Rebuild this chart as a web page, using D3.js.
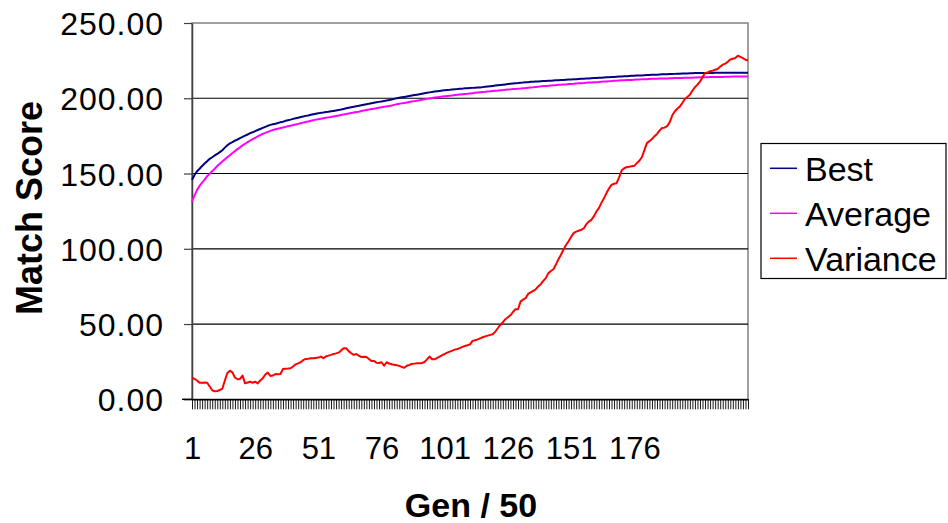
<!DOCTYPE html>
<html>
<head>
<meta charset="utf-8">
<script src="https://cdn.jsdelivr.net/npm/d3@7"></script>
<style>
  html, body { margin: 0; padding: 0; background: #fff; }
  svg { display: block; font-family: "Liberation Sans", Arial, sans-serif; }
</style>
</head>
<body>
<svg id="chart" width="948" height="523"></svg>
<script>
// Generation samples (every 50 generations)
const generations = d3.range(1, 222);

const xTickLabels = [1, 26, 51, 76, 101, 126, 151, 176];
const yTickValues = [0, 50, 100, 150, 200, 250];

const bestScores = [
  145.8,149.0,151.5,153.2,155.0,156.6,158.2,159.8,160.8,162.0,
  163.0,164.2,165.5,167.2,168.8,170.0,170.8,171.8,172.6,173.5,
  174.3,175.2,175.9,176.8,177.4,178.2,178.9,179.6,180.3,181.0,
  181.7,182.3,182.7,183.1,183.6,184.0,184.4,185.0,185.4,185.8,
  186.3,186.7,187.1,187.5,187.9,188.3,188.6,189.0,189.4,189.7,
  190.0,190.3,190.5,190.8,191.0,191.3,191.6,191.9,192.2,192.5,
  192.9,193.3,193.7,194.0,194.3,194.7,195.0,195.4,195.7,196.0,
  196.3,196.7,197.0,197.3,197.6,197.9,198.2,198.5,198.8,199.2,
  199.6,200.0,200.3,200.6,200.9,201.2,201.5,201.8,202.1,202.4,
  202.7,203.0,203.3,203.6,203.9,204.2,204.5,204.7,204.9,205.1,
  205.3,205.5,205.6,205.8,206.0,206.1,206.3,206.4,206.6,206.7,
  206.8,206.9,207.0,207.1,207.2,207.4,207.6,207.8,208.0,208.2,
  208.4,208.6,208.8,209.0,209.2,209.4,209.6,209.8,210.0,210.1,
  210.3,210.4,210.6,210.7,210.9,211.0,211.1,211.2,211.3,211.4,
  211.5,211.6,211.7,211.8,211.9,212.0,212.1,212.2,212.3,212.4,
  212.5,212.6,212.7,212.8,212.9,213.0,213.1,213.2,213.3,213.4,
  213.5,213.6,213.7,213.8,213.9,214.0,214.1,214.2,214.3,214.4,
  214.5,214.6,214.7,214.8,214.9,215.0,215.1,215.2,215.2,215.3,
  215.4,215.5,215.6,215.6,215.7,215.8,215.9,215.9,216.0,216.1,
  216.1,216.2,216.3,216.3,216.4,216.5,216.5,216.6,216.6,216.7,
  216.7,216.7,216.8,216.8,216.8,216.8,216.8,216.9,216.9,216.9,
  216.9,216.9,216.9,216.9,216.9,216.9,216.9,216.9,216.9,216.9,216.9
];

const averageScores = [
  131.4,135.5,139.0,141.8,143.9,146.0,148.2,149.8,151.5,153.2,
  155.0,156.5,158.0,159.4,160.8,162.2,163.6,164.9,166.2,167.4,
  168.7,169.8,170.9,171.9,172.8,173.7,174.6,175.5,176.3,177.0,
  177.7,178.3,178.9,179.4,179.8,180.2,180.6,181.0,181.4,181.8,
  182.2,182.6,183.0,183.4,183.8,184.2,184.6,185.0,185.4,185.8,
  186.1,186.4,186.7,187.0,187.3,187.6,187.9,188.2,188.5,188.9,
  189.3,189.6,189.9,190.2,190.5,190.8,191.1,191.5,191.8,192.2,
  192.5,192.8,193.1,193.4,193.7,194.0,194.3,194.6,194.9,195.2,
  195.6,196.0,196.3,196.6,196.9,197.2,197.5,197.8,198.1,198.4,
  198.7,199.0,199.3,199.6,199.9,200.2,200.5,200.7,200.9,201.1,
  201.3,201.5,201.7,201.9,202.1,202.3,202.5,202.7,202.9,203.0,
  203.2,203.4,203.6,203.8,204.0,204.2,204.3,204.5,204.6,204.8,
  205.0,205.1,205.3,205.4,205.6,205.8,205.9,206.1,206.2,206.4,
  206.5,206.7,206.8,207.0,207.2,207.3,207.5,207.7,207.9,208.1,
  208.2,208.3,208.5,208.6,208.7,208.9,209.0,209.1,209.2,209.4,
  209.5,209.6,209.8,209.9,210.0,210.1,210.3,210.4,210.5,210.6,
  210.7,210.8,211.0,211.1,211.2,211.3,211.4,211.6,211.7,211.8,
  211.9,212.0,212.1,212.2,212.2,212.3,212.4,212.5,212.6,212.6,
  212.7,212.8,212.9,212.9,213.0,213.1,213.1,213.2,213.2,213.3,
  213.3,213.4,213.4,213.5,213.5,213.6,213.6,213.7,213.7,213.8,
  213.8,213.9,213.9,214.0,214.0,214.1,214.1,214.1,214.2,214.2,
  214.2,214.3,214.3,214.3,214.4,214.4,214.4,214.5,214.5,214.5,214.5
];

const varianceScores = [
  14.4,13.5,12.5,11.0,11.0,11.2,11.0,8.5,6.0,5.3,
  5.5,6.2,7.0,12.5,17.5,19.0,17.9,14.5,13.3,13.5,
  15.7,10.6,11.2,11.7,11.0,11.7,10.6,12.5,14.0,16.5,
  17.7,15.5,15.8,16.8,16.6,16.8,20.1,20.3,20.4,20.6,
  21.8,23.2,23.9,24.6,26.0,26.8,27.0,27.3,27.2,27.5,
  27.7,28.4,27.3,28.5,29.0,29.5,30.1,30.5,31.0,32.5,
  33.9,33.9,32.0,30.6,29.5,30.1,29.0,28.1,28.2,28.1,
  26.8,25.5,25.5,24.3,24.1,24.6,22.3,24.6,23.8,23.3,
  23.0,22.6,22.2,21.5,21.0,22.3,22.8,23.5,23.7,23.9,
  24.0,24.1,24.8,26.5,28.4,26.6,26.6,27.5,28.4,29.3,
  30.1,31.0,31.7,32.3,33.0,33.4,34.0,34.8,35.4,35.9,
  36.5,38.8,39.2,39.8,40.5,41.2,41.8,42.3,42.8,43.2,
  45.0,47.2,49.4,51.2,53.2,54.5,55.8,58.0,59.8,59.8,
  64.9,66.2,67.2,70.0,71.0,72.0,73.0,75.0,76.5,78.7,
  80.5,83.8,85.2,86.4,89.5,93.1,96.0,99.5,102.5,105.0,
  107.8,110.4,111.4,112.0,112.6,113.5,116.2,118.0,119.2,121.5,
  124.7,127.0,130.5,133.5,137.0,140.0,142.5,143.2,143.6,147.5,
  152.0,153.5,154.3,154.5,154.8,155.1,156.9,158.5,160.8,165.5,
  170.2,171.5,172.9,174.8,176.3,178.5,180.2,180.5,181.5,184.0,
  188.5,191.2,193.0,194.5,196.8,199.5,200.8,202.3,205.0,207.4,
  209.0,211.0,214.0,216.8,217.2,218.0,218.3,218.9,219.4,221.0,
  222.3,223.0,224.2,225.8,226.3,226.8,228.3,227.5,226.7,225.6,225.1
];

const seriesNames = ["Best", "Average", "Variance"];
const seriesColors = ["#000080", "#ff00ff", "#ff0000"];
const seriesValues = [bestScores, averageScores, varianceScores];

const svg = d3.select("#chart");
const plot = { left: 192, right: 748, top: 23, bottom: 399.3 };

const x = d3.scalePoint().domain(generations).range([plot.left, plot.right]);
const y = d3.scaleLinear().domain([0, 250]).range([plot.bottom, plot.top]);

// Plot frame
svg.append("rect")
  .attr("x", plot.left).attr("y", plot.top)
  .attr("width", plot.right - plot.left).attr("height", plot.bottom - plot.top)
  .attr("fill", "none").attr("stroke", "#808080").attr("stroke-width", 1.5);

// Horizontal gridlines
svg.append("g")
  .selectAll("line")
  .data(yTickValues.filter(v => v > 0 && v < 250))
  .join("line")
  .attr("x1", plot.left).attr("x2", plot.right)
  .attr("y1", d => y(d)).attr("y2", d => y(d))
  .attr("stroke", "#000").attr("stroke-width", 1.2);

// Y axis
const yAxis = svg.append("g")
  .attr("transform", `translate(${plot.left},0)`)
  .call(d3.axisLeft(y).tickValues(yTickValues).tickSize(8).tickSizeOuter(0)
    .tickPadding(20).tickFormat(d3.format(".2f")));
yAxis.select(".domain").attr("stroke", "#404040").attr("stroke-width", 1.5);
yAxis.selectAll(".tick line").attr("stroke", "#404040").attr("stroke-width", 1.2);
yAxis.selectAll(".tick text").attr("font-size", 32).attr("fill", "#000")
  .attr("letter-spacing", 1)
  .attr("font-family", "'Liberation Sans', Arial, sans-serif").attr("dy", "0.36em");

// X axis: a tick per generation sample
const xAxisTicks = svg.append("g")
  .attr("transform", `translate(0,${plot.bottom})`)
  .call(d3.axisBottom(x).tickValues(generations).tickSize(10).tickSizeOuter(0).tickFormat(""));
xAxisTicks.select(".domain").attr("stroke", "#000").attr("stroke-width", 1.5);
xAxisTicks.selectAll(".tick line").attr("stroke", "#000").attr("stroke-width", 0.9);
svg.append("line")
  .attr("x1", plot.left - 10).attr("x2", plot.left)
  .attr("y1", plot.bottom).attr("y2", plot.bottom)
  .attr("stroke", "#000").attr("stroke-width", 1.5);

const xAxisLabels = svg.append("g")
  .attr("transform", `translate(0,${plot.bottom})`)
  .call(d3.axisBottom(x).tickValues(xTickLabels).tickSize(0).tickPadding(38));
xAxisLabels.select(".domain").remove();
xAxisLabels.selectAll(".tick text").attr("font-size", 31).attr("fill", "#000")
  .attr("font-family", "'Liberation Sans', Arial, sans-serif");

// Series lines
const line = d3.line().x((d, i) => x(generations[i])).y(d => y(d));
svg.append("g")
  .selectAll("path")
  .data(seriesValues)
  .join("path")
  .attr("d", d => line(d))
  .attr("fill", "none")
  .attr("stroke", (d, i) => seriesColors[i])
  .attr("stroke-width", 2)
  .attr("stroke-linejoin", "round");

// Axis titles
svg.append("text")
  .attr("x", 471).attr("y", 517)
  .attr("text-anchor", "middle")
  .attr("font-size", 34).attr("font-weight", "bold")
  .text("Gen / 50");

svg.append("text")
  .attr("transform", "translate(42,208) rotate(-90)")
  .attr("text-anchor", "middle")
  .attr("font-size", 36).attr("font-weight", "bold")
  .text("Match Score");

// Legend
const legend = svg.append("g");
legend.append("rect")
  .attr("x", 761).attr("y", 143.5).attr("width", 185).attr("height", 135)
  .attr("fill", "#fff").attr("stroke", "#000").attr("stroke-width", 1.2);
const items = legend.selectAll("g.item")
  .data(seriesNames)
  .join("g")
  .attr("class", "item")
  .attr("transform", (d, i) => `translate(0,${168.3 + i * 45})`);
items.append("line")
  .attr("x1", 770).attr("x2", 797).attr("y1", 0).attr("y2", 0)
  .attr("stroke", (d, i) => seriesColors[i]).attr("stroke-width", 1.5);
items.append("text")
  .attr("x", 805).attr("y", 0).attr("dy", "0.36em")
  .attr("font-size", 34).attr("fill", "#000")
  .text(d => d);
</script>
</body>
</html>
